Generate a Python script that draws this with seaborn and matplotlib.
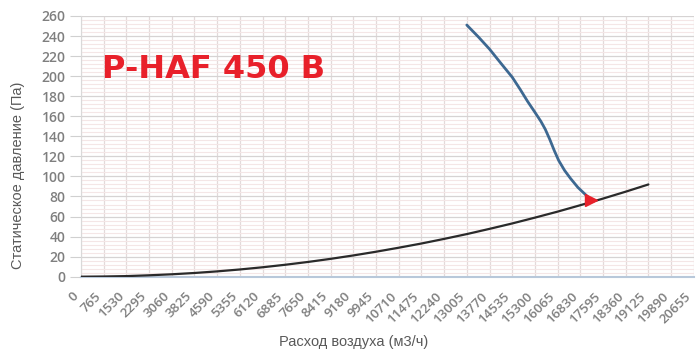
import numpy as np
import pandas as pd
import matplotlib
matplotlib.use('agg')
import matplotlib.pyplot as plt
from matplotlib.ticker import MultipleLocator
import seaborn as sns

# x ticks (м3/ч)
x_ticks = list(range(0, 20655 + 1, 765))

# system (network) curve
sys_flow = [0, 765, 1530, 2295, 3060, 3825, 4590, 5355, 6120, 6885, 7650, 8415,
            9180, 9945, 10710, 11475, 12240, 13005, 13770, 14535, 15300, 16065,
            16830, 17595, 18360, 19125]
sys_press = [0, 0.2, 0.6, 1.4, 2.4, 3.7, 5.3, 7.2, 9.4, 11.9, 14.7, 17.8,
             21.2, 24.9, 28.9, 33.1, 37.7, 42.5, 47.7, 53.1, 58.9, 64.9,
             71.3, 77.9, 84.8, 92]

# fan curve
fan_flow = [13005, 13400, 13770, 14150, 14535, 14800, 15050, 15300, 15500, 15650,
            15800, 15950, 16100, 16300, 16500, 16750, 17000, 17200]
fan_press = [251, 239, 227, 213, 199, 187, 175, 164, 155, 147,
             137, 126, 116, 106, 98, 89, 82, 76]

# working point
wp_flow = [17200]
wp_press = [76]

sys_df = pd.DataFrame({'flow': sys_flow, 'press': sys_press})
fan_df = pd.DataFrame({'flow': fan_flow, 'press': fan_press})

sns.set_style('white')
plt.rcParams['font.family'] = ['Open Sans', 'DejaVu Sans']

fig = plt.figure(figsize=(6.96, 3.53), dpi=100)
ax = fig.add_axes([80.9 / 696, 1 - 276.7 / 353, (693.8 - 80.9) / 696, (276.7 - 16) / 353])

# grid
ax.yaxis.set_major_locator(MultipleLocator(20))
ax.yaxis.set_minor_locator(MultipleLocator(4))
ax.set_xticks(x_ticks)
ax.grid(which='major', axis='y', color='#d6d3d3', lw=0.9)
ax.grid(which='minor', axis='y', color='#f4e6e6', lw=0.8)
ax.grid(which='major', axis='x', color='#e3dada', lw=0.9)
ax.set_axisbelow(True)

sns.lineplot(data=sys_df, x='flow', y='press', ax=ax, color='#2a2a2a', lw=1.6, zorder=3)
sns.lineplot(data=fan_df, x='flow', y='press', ax=ax, color='#3d6891', lw=2.0, zorder=4)
ax.plot(wp_flow, wp_press, marker='>', color='#e8202a', markersize=8, ls='none', zorder=5)

ax.set_xlim(0, 20655)
ax.set_ylim(0, 260)

for side in ['top', 'right']:
    ax.spines[side].set_visible(False)
ax.spines['left'].set_color('#d9d9d9')
ax.spines['bottom'].set_color('#b8c8da')
ax.spines['bottom'].set_linewidth(1.5)

ax.tick_params(axis='y', which='major', length=8, color='#d0d0d0', labelsize=10,
               labelcolor='#7f7f7f', pad=3, left=True)
ax.tick_params(axis='y', which='minor', length=0)
for lbl in ax.get_yticklabels():
    lbl.set_fontweight('semibold')
ax.tick_params(axis='x', length=0, labelsize=9.5, labelcolor='#7f7f7f', pad=16)
ax.set_xticklabels([str(t) for t in x_ticks], rotation=45, ha='right', va='bottom',
                   rotation_mode='anchor', fontweight='semibold')

ax.set_xlabel('Расход воздуха (м3/ч)', fontsize=10.5, color='#595959',
              family=['Liberation Sans', 'DejaVu Sans'])
ax.xaxis.set_label_coords(0.445, -0.225)
ax.set_ylabel('Статическое давление (Па)', fontsize=10.5, color='#595959',
              family=['Liberation Sans', 'DejaVu Sans'])
ax.yaxis.set_label_coords(-0.092, 0.39)

ax.text(0.034, 0.762, 'P-HAF 450 B', transform=ax.transAxes, color='#e8202a',
        fontsize=23, fontweight='bold', family=['DejaVu Sans'], va='baseline', ha='left')

fig.savefig('out.png', dpi=100)
